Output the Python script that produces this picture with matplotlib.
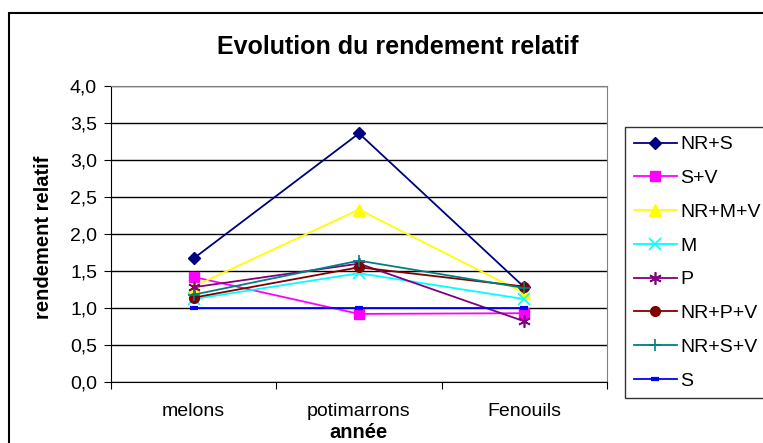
import matplotlib
matplotlib.use("Agg")
import matplotlib.pyplot as plt
from matplotlib.patches import Rectangle
from matplotlib.ticker import FuncFormatter

plt.rcParams['font.family'] = ['Liberation Sans', 'DejaVu Sans']

categories = ["melons", "potimarrons", "Fenouils"]
series_names = ["NR+S", "S+V", "NR+M+V", "M", "P", "NR+P+V", "NR+S+V", "S"]
nr_s = [1.67, 3.36, 1.28]
s_v = [1.42, 0.92, 0.93]
nr_m_v = [1.29, 2.33, 1.20]
m = [1.12, 1.47, 1.12]
p = [1.28, 1.60, 0.82]
nr_p_v = [1.14, 1.55, 1.29]
nr_s_v = [1.18, 1.64, 1.27]
s = [1.0, 1.0, 1.0]
yticks = [0.0, 0.5, 1.0, 1.5, 2.0, 2.5, 3.0, 3.5, 4.0]

values = [nr_s, s_v, nr_m_v, m, p, nr_p_v, nr_s_v, s]
colors = ["#000080", "#FF00FF", "#FFFF00", "#00FFFF", "#800080", "#800000", "#008080", "#0000FF"]
markers = ["D", "s", "^", "x", (6, 2, 0), "o", "+", "_"]
msizes = [6, 7, 8, 8, 9, 7, 9, 6]

W, H = 763, 443
fig = plt.figure(figsize=(W / 100, H / 100), dpi=100)
fig.patch.set_facecolor("white")

# outer chart border
fig.patches.append(Rectangle((9 / W, -0.1), 1.2, 1 - 13 / H + 0.1, transform=fig.transFigure,
                             fill=False, edgecolor="black", linewidth=1.5, zorder=0))

left, right, top, bottom = 111, 607, 86, 382
ax = fig.add_axes([left / W, 1 - bottom / H, (right - left) / W, (bottom - top) / H])

x = list(range(len(categories)))
for vals, name, c, mk, ms in zip(values, series_names, colors, markers, msizes):
    kw = dict(markerfacecolor=c, markeredgecolor=c)
    if mk in ("x", "+") or isinstance(mk, tuple):
        kw["markeredgewidth"] = 1.2
    if mk == "_":
        kw["markeredgewidth"] = 3
    ax.plot(x, vals, color=c, linewidth=1.3, marker=mk, markersize=ms, label=name, clip_on=False, **kw)

ax.set_xlim(-0.5, 2.5)
ax.set_ylim(0, 4)
ax.set_yticks(yticks)
ax.yaxis.set_major_formatter(FuncFormatter(lambda v, pos: f"{v:.1f}".replace(".", ",")))
ax.set_xticks([-0.5, 0.5, 1.5, 2.5])
ax.set_xticklabels([])
ax.set_xticks(x, minor=True)
ax.set_xticklabels(categories, minor=True)
ax.tick_params(axis="x", which="minor", length=0, pad=15, labelsize=14)
ax.tick_params(axis="x", which="major", length=5, direction="out", color="black")
ax.tick_params(axis="y", length=5, direction="out", labelsize=14, pad=5)
ax.grid(axis="y", color="black", linewidth=1)
ax.set_axisbelow(True)
for sp in ["top", "right"]:
    ax.spines[sp].set_color("#808080")
ax.spines["left"].set_color("black")
ax.spines["bottom"].set_color("black")

fig.text(398 / W, 1 - 47 / H, "Evolution du rendement relatif", fontsize=18, fontweight="bold",
         ha="center", va="center")
fig.text(358 / W, 1 - 432 / H, "année", fontsize=14.5, fontweight="bold", ha="center", va="center")
fig.text(44 / W, 1 - 237.5 / H, "rendement relatif", fontsize=14.5, fontweight="bold",
         ha="center", va="center", rotation=90)

leg = fig.legend(loc="upper left", bbox_to_anchor=(625 / W, 1 - 127 / H), fontsize=14,
                 frameon=True, fancybox=False, edgecolor="black", handlelength=2.2,
                 handletextpad=0.2, labelspacing=0.83, borderpad=0.45, borderaxespad=0)
leg.get_frame().set_linewidth(1)

fig.savefig("out.png", dpi=100, facecolor="white")
